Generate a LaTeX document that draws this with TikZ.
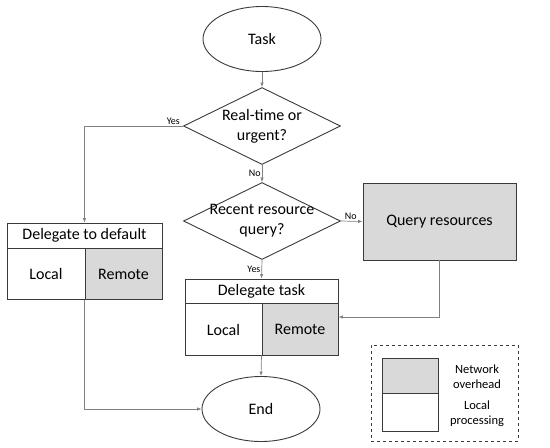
\documentclass[tikz,border=0pt]{standalone}
\usepackage{fontspec}
\setmainfont{Carlito}
\usepackage{tikz}
\usetikzlibrary{shapes.geometric,arrows.meta,positioning}
\definecolor{overhead}{HTML}{D9D9D9}
\definecolor{edge}{HTML}{3A3A3A}
\definecolor{wire}{HTML}{808080}

\begin{document}
\begin{tikzpicture}[
    x=1pt,y=-1pt,
    terminal/.style={ellipse,draw=edge,line width=0.9pt,minimum width=118pt,minimum height=65pt,inner sep=0pt,font=\fontsize{16}{20}\selectfont},
    decision/.style={diamond,draw=edge,line width=0.9pt,minimum width=157pt,minimum height=77pt,inner sep=0pt},
    question/.style={align=center,font=\fontsize{16}{20}\selectfont},
    frame/.style={draw=edge,line width=0.9pt,inner sep=0pt},
    cell/.style={draw=edge,line width=0.9pt,inner sep=0pt,font=\fontsize{16}{20}\selectfont},
    netcell/.style={cell,fill=overhead},
    tag/.style={font=\fontsize{10}{12}\selectfont,inner sep=1pt},
    legendtext/.style={align=center,font=\fontsize{12.5}{15}\selectfont},
    arrow/.style={-{Latex[length=4.5pt,width=3.5pt]},draw=wire,line width=0.7pt}
  ]
    \useasboundingbox (0,0) rectangle (550,448);

    % main column
    \node[terminal] (task) at (262,39) {Task};
    \node[decision,label={[question]center:Real-time or\\urgent?}] (urgent) at (262,126) {};
    \node[decision,label={[question]center:Recent resource\\query?}] (recent) at (262,221) {};
    \node[netcell,minimum width=153pt,minimum height=77pt] (query) at (439.5,221.5) {Query resources};

    % delegate task
    \node[frame,minimum width=153pt,minimum height=76pt] (dtask) at (261.5,317) {};
    \node[cell,minimum width=153pt,minimum height=24pt,anchor=north] (dtaskhead) at (dtask.north) {Delegate task};
    \node[cell,minimum width=77pt,minimum height=52pt,anchor=north west] (dtasklocal) at (dtaskhead.south west) {Local};
    \node[netcell,minimum width=76pt,minimum height=52pt,anchor=north east] (dtaskremote) at (dtaskhead.south east) {Remote};

    % delegate to default
    \node[frame,minimum width=155pt,minimum height=76pt] (ddef) at (84.5,261) {};
    \node[cell,minimum width=155pt,minimum height=25pt,anchor=north] (ddefhead) at (ddef.north) {Delegate to default};
    \node[cell,minimum width=78pt,minimum height=51pt,anchor=north west] (ddeflocal) at (ddefhead.south west) {Local};
    \node[netcell,minimum width=77pt,minimum height=51pt,anchor=north east] (ddefremote) at (ddefhead.south east) {Remote};

    \node[terminal] (end) at (261,409) {End};

    % connectors
    \draw[arrow] (task) -- (urgent);
    \draw[arrow] (urgent.west) -| (ddefhead.north);
    \node[tag,above left=0pt and 2pt of urgent.west] {Yes};
    \draw[arrow] (urgent.south) -- node[tag,left] {No} (recent.north);
    \draw[arrow] (recent.east) -- node[tag,above,pos=0.45] {No} (query.west);
    \draw[arrow] (recent.south) -- node[tag,left] {Yes} (dtaskhead.north);
    \draw[arrow] (query.south) |- (dtask.east);
    \draw[arrow] (dtask.south) -- (end.north);
    \draw[arrow] (ddefremote.south west) |- (end.west);

    % legend
    \node[draw=edge,dashed,line width=0.8pt,minimum width=147pt,minimum height=96pt] (legend) at (444.5,393) {};
    \node[netcell,minimum width=56pt,minimum height=35pt] (legendnet) at (410,375.5) {};
    \node[cell,minimum width=56pt,minimum height=38pt,anchor=north] (legendlocal) at (legendnet.south) {};
    \node[legendtext] (legendnettext) at (477,377) {Network\\overhead};
    \node[legendtext] (legendlocaltext) at (477,414) {Local\\processing};
  \end{tikzpicture}
\end{document}
